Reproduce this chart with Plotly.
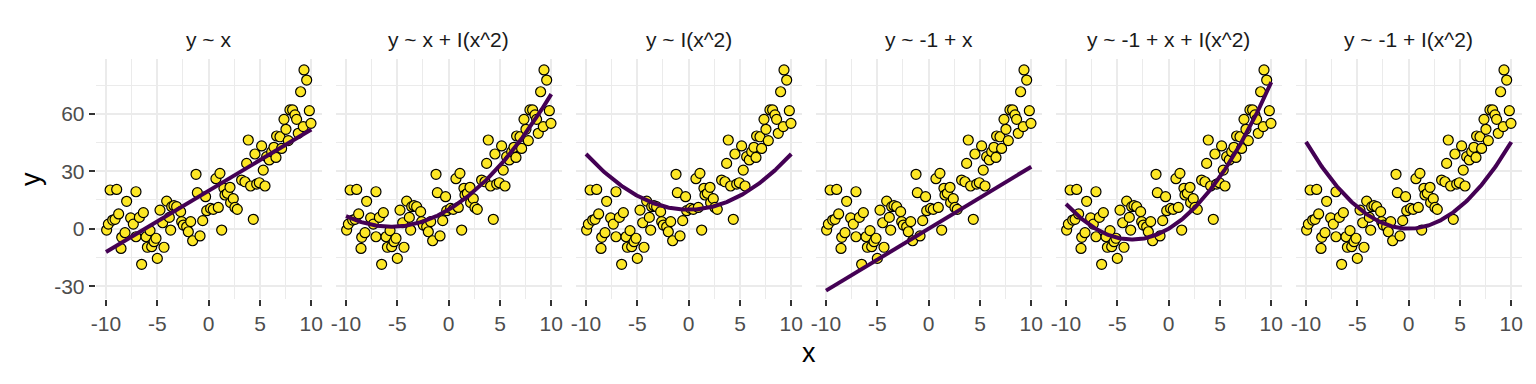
import numpy as np
import plotly.graph_objects as go

# ---- data ----
x_vals = [-9.94, -9.77, -9.6, -9.35, -9.12, -8.96, -8.77, -8.54, -8.47, -8.15, -7.99, -7.6, -7.34,
          -7.08, -7.08, -6.75, -6.53, -6.36, -6.1, -5.97, -5.71, -5.55, -5.32, -5.13, -5.0, -4.74,
          -4.48, -4.35, -4.09, -3.83, -3.7, -3.6, -3.38, -3.12, -2.73, -2.63, -2.47, -2.14, -1.98,
          -1.75, -1.56, -1.23, -1.1, -0.84, -0.58, -0.3, -0.19, 0.19, 0.45, 0.71, 0.94, 1.1, 1.27,
          1.49, 1.59, 1.82, 2.08, 2.14, 2.4, 2.56, 2.79, 3.21, 3.54, 3.7, 3.86, 4.09, 4.35, 4.51,
          4.68, 4.94, 5.16, 5.32, 5.49, 5.65, 5.91, 6.14, 6.36, 6.56, 6.62, 6.95, 7.11, 7.34, 7.53,
          7.76, 7.92, 8.18, 8.41, 8.57, 8.73, 8.96, 9.22, 9.29, 9.55, 9.81, 9.97]
y_vals = [-0.7, 2.4, 20.2, 4.5, 4.9, 20.5, 7.7, -10.3, -4.5, -2.1, 14.3, 5.6, 2.4,
          19.3, -4.2, 5.9, -18.6, 8.4, -4.2, -9.7, -1.0, -9.4, -6.8, -5.0, -15.5, 9.7,
          3.1, -9.7, 14.4, 5.9, -0.7, 11.5, 12.0, 11.5, 8.9, 3.7, 1.9, 1.0, -1.6,
          3.7, -6.3, 28.4, 18.8, -3.8, 4.2, 16.7, 9.4, 10.6, 10.1, 26.1, 11.1, 28.9, -0.7,
          21.1, 17.6, 18.5, 21.6, 13.6, 15.7, 11.1, 10.1, 25.4, 24.5, 34.1, 46.3, 22.3, 4.9, 39.0,
          23.3, 24.0, 43.2, 30.6, 22.3, 37.6, 35.9, 40.2, 42.5, 37.2, 48.4, 48.0, 41.9, 57.1, 51.9,
          46.0, 62.0, 62.0, 59.4, 57.1, 49.8, 71.5, 53.3, 82.9, 77.6, 61.6, 55.0]

formulas = ["y ~ x", "y ~ x + I(x^2)", "y ~ I(x^2)", "y ~ -1 + x", "y ~ -1 + x + I(x^2)", "y ~ -1 + I(x^2)"]
x_ticks = [-10, -5, 0, 5, 10]
x_tick_labels = ["-10", "-5", "0", "5", "10"]
y_ticks = [-30, 0, 30, 60]
y_tick_labels = ["-30", "0", "30", "60"]

# ---- fits ----
x = np.array(x_vals)
y = np.array(y_vals)
xg = np.linspace(-10, 10, 201)


def design(xx, f):
    cols = []
    if "-1" not in f:
        cols.append(np.ones_like(xx))
    if "x +" in f or f.endswith("x"):
        cols.append(xx)
    if "I(x^2)" in f:
        cols.append(xx ** 2)
    return np.column_stack(cols)


# page body has an 8px default margin: work in page pixels, offset by 8
OFF = 8
W, H = 1536 - 2 * OFF, 384 - 2 * OFF
px_left0 = 95.75 - OFF
panel_w = 225.8
step = 240.0
top_px, bot_px = 59.2 - OFF, 298.6 - OFF
FONT = "Liberation Sans, Arial, Helvetica"

fig = go.Figure()
grid = "#EBEBEB"
for i, f in enumerate(formulas):
    ax = "" if i == 0 else str(i + 1)
    X = design(x, f)
    beta, *_ = np.linalg.lstsq(X, y, rcond=None)
    yg = design(xg, f) @ beta
    fig.add_trace(go.Scatter(x=x, y=y, mode="markers", xaxis="x" + ax, yaxis="y" + ax,
                             marker=dict(size=10, color="#FDE725", line=dict(color="black", width=1.2)),
                             showlegend=False, hoverinfo="skip"))
    fig.add_trace(go.Scatter(x=xg, y=yg, mode="lines", xaxis="x" + ax, yaxis="y" + ax,
                             line=dict(color="#440154", width=4), showlegend=False))
    l = (px_left0 + step * i) / W
    r = (px_left0 + panel_w + step * i) / W
    fig.layout["xaxis" + ax] = dict(
        domain=[l, r], range=[-11, 11], anchor="y" + ax, automargin=False,
        tickvals=x_ticks, ticktext=x_tick_labels, ticks="outside", ticklen=6, tickwidth=2,
        tickcolor="#333333", showgrid=True, gridcolor=grid, gridwidth=2, zeroline=False,
        showline=False, tickfont=dict(family=FONT, size=21, color="#4D4D4D"),
        minor=dict(tickvals=[-7.5, -2.5, 2.5, 7.5], showgrid=True, gridcolor=grid, gridwidth=1, ticks=""),
        fixedrange=True)
    fig.layout["yaxis" + ax] = dict(
        domain=[1 - bot_px / H, 1 - top_px / H], range=[-36.5, 88.5], anchor="x" + ax, automargin=False,
        tickvals=y_ticks, ticktext=y_tick_labels, ticks="outside" if i == 0 else "",
        ticklen=6, tickwidth=2, tickcolor="#333333", showticklabels=(i == 0),
        showgrid=True, gridcolor=grid, gridwidth=2, zeroline=False, showline=False,
        tickfont=dict(family=FONT, size=21, color="#4D4D4D"),
        minor=dict(tickvals=[-15, 15, 45, 75], showgrid=True, gridcolor=grid, gridwidth=1, ticks=""),
        fixedrange=True)
    fig.add_annotation(text=f, x=(l + r) / 2, y=1 - (40 - OFF) / H, xref="paper", yref="paper",
                       xanchor="center", yanchor="middle", showarrow=False,
                       font=dict(family=FONT, size=21, color="#1A1A1A"))

fig.add_annotation(text="x", x=(px_left0 + (px_left0 + panel_w + step * 5)) / 2 / W, y=1 - (353 - OFF) / H,
                   xref="paper", yref="paper", xanchor="center", yanchor="middle", showarrow=False,
                   font=dict(family=FONT, size=27, color="black"))
fig.add_annotation(text="y", x=(31 - OFF) / W, y=1 - (179 - OFF) / H, xref="paper", yref="paper",
                   xanchor="center", yanchor="middle", showarrow=False,
                   textangle=-90, font=dict(family=FONT, size=27, color="black"))

fig.update_layout(width=W, height=H, margin=dict(l=0, r=0, t=0, b=0, autoexpand=False),
                  plot_bgcolor="white", paper_bgcolor="white")
fig.write_html("out.html")
